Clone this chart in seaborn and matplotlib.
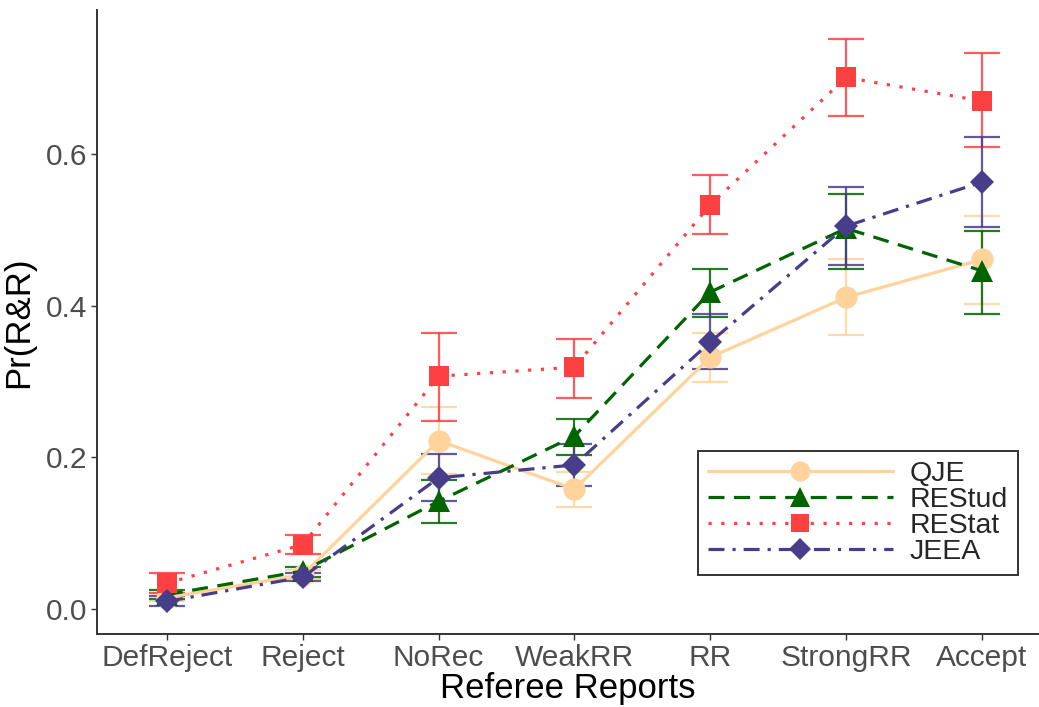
import numpy as np
import pandas as pd
import matplotlib
matplotlib.use("Agg")
import matplotlib.pyplot as plt
import seaborn as sns

categories = ["DefReject", "Reject", "NoRec", "WeakRR", "RR", "StrongRR", "Accept"]
journals = ["QJE", "RESstud", "REStat", "JEEA"]
labels = ["QJE", "REStud", "REStat", "JEEA"]

qje = [0.015, 0.045, 0.222, 0.158, 0.332, 0.411, 0.461]
qje_lo = [0.010, 0.040, 0.178, 0.134, 0.299, 0.361, 0.402]
qje_hi = [0.021, 0.051, 0.267, 0.181, 0.364, 0.462, 0.518]

restud = [0.019, 0.050, 0.142, 0.228, 0.418, 0.502, 0.446]
restud_lo = [0.013, 0.042, 0.113, 0.203, 0.385, 0.449, 0.389]
restud_hi = [0.025, 0.056, 0.170, 0.250, 0.449, 0.547, 0.498]

restat = [0.034, 0.085, 0.307, 0.319, 0.533, 0.701, 0.670]
restat_lo = [0.021, 0.073, 0.248, 0.278, 0.495, 0.650, 0.609]
restat_hi = [0.047, 0.097, 0.364, 0.356, 0.573, 0.752, 0.733]

jeea = [0.010, 0.042, 0.173, 0.190, 0.352, 0.505, 0.563]
jeea_lo = [0.004, 0.037, 0.142, 0.162, 0.317, 0.454, 0.504]
jeea_hi = [0.017, 0.048, 0.204, 0.218, 0.389, 0.557, 0.622]

colors = {"QJE": "#FFD39B", "RESstud": "#006400", "REStat": "#FF4040", "JEEA": "#483D8B"}
markers = {"QJE": "o", "RESstud": "^", "REStat": "s", "JEEA": "D"}
dashes = {"QJE": "", "RESstud": (5, 3), "REStat": (1, 3), "JEEA": (5, 2.5, 1, 2.5)}
msize = {"QJE": 16, "RESstud": 16, "REStat": 15, "JEEA": 12}

vals = {"QJE": (qje, qje_lo, qje_hi), "RESstud": (restud, restud_lo, restud_hi),
        "REStat": (restat, restat_lo, restat_hi), "JEEA": (jeea, jeea_lo, jeea_hi)}

rows = []
for j, lab in zip(journals, labels):
    m, lo, hi = vals[j]
    for c, v, l, h in zip(categories, m, lo, hi):
        rows.append(dict(report=c, journal=lab, key=j, p=v, lo=l, hi=h))
df = pd.DataFrame(rows)

sns.set_style("white")
plt.rcParams["font.family"] = ["Liberation Sans", "DejaVu Sans"]

fig = plt.figure(figsize=(10.39, 7.07), dpi=100)
ax = fig.add_axes([97/1039, 1 - 634/707, (1039 - 97)/1039, (634 - 10)/707])

xpos = {c: i for i, c in enumerate(categories)}
for j, lab in zip(journals, labels):
    sub = df[df.key == j]
    x = sub.report.map(xpos).values
    ax.errorbar(x, sub.p.values, yerr=[sub.p.values - sub.lo.values, sub.hi.values - sub.p.values],
                fmt="none", ecolor=colors[j], elinewidth=1.6, capsize=13, capthick=1.6,
                alpha=0.85, zorder=2)

for j, lab in zip(journals, labels):
    sub = df[df.key == j].copy()
    sub["x"] = sub.report.map(xpos)
    sns.lineplot(data=sub, x="x", y="p", ax=ax, color=colors[j], marker=markers[j],
                 markersize=msize[j], markeredgewidth=0, linewidth=2.3,
                 label=lab, zorder=3)

for line, j in zip(ax.get_lines()[-4:], journals):
    if dashes[j]:
        line.set_dashes(dashes[j])

ax.set_xlim(-0.515, 6.42)
ax.set_ylim(-0.033, 0.79)
ax.set_xticks(range(len(categories)))
ax.set_xticklabels(categories)
ax.set_yticks([0.0, 0.2, 0.4, 0.6])
ax.set_yticklabels(["0.0", "0.2", "0.4", "0.6"])
ax.tick_params(axis="both", labelsize=21.5, labelcolor="#4D4D4D", color="#333333",
               length=4, width=1, direction="out", bottom=True, left=True, pad=3)
ax.set_xlabel("Referee Reports", fontsize=25, color="black", labelpad=0)
ax.set_ylabel("Pr(R&R)", fontsize=25, color="black", labelpad=8)
for s in ["top", "right"]:
    ax.spines[s].set_visible(False)
for s in ["left", "bottom"]:
    ax.spines[s].set_color("#333333")
    ax.spines[s].set_linewidth(1.4)

handles, _ = ax.get_legend_handles_labels()
for h, j in zip(handles, journals):
    if dashes[j]:
        h.set_dashes(dashes[j])
leg = ax.legend(loc="lower right", frameon=True,
                fontsize=20.5, handlelength=6.5, handletextpad=0.6, labelspacing=0.0,
                borderpad=0.35, borderaxespad=0, fancybox=False, markerscale=0.9)
leg.set_bbox_to_anchor(((1018 - 97)/942, (634 - 575)/624), transform=ax.transAxes)
frame = leg.get_frame()
frame.set_edgecolor("#333333")
frame.set_linewidth(1.4)
frame.set_alpha(1)

fig.savefig("out.png", dpi=100)
